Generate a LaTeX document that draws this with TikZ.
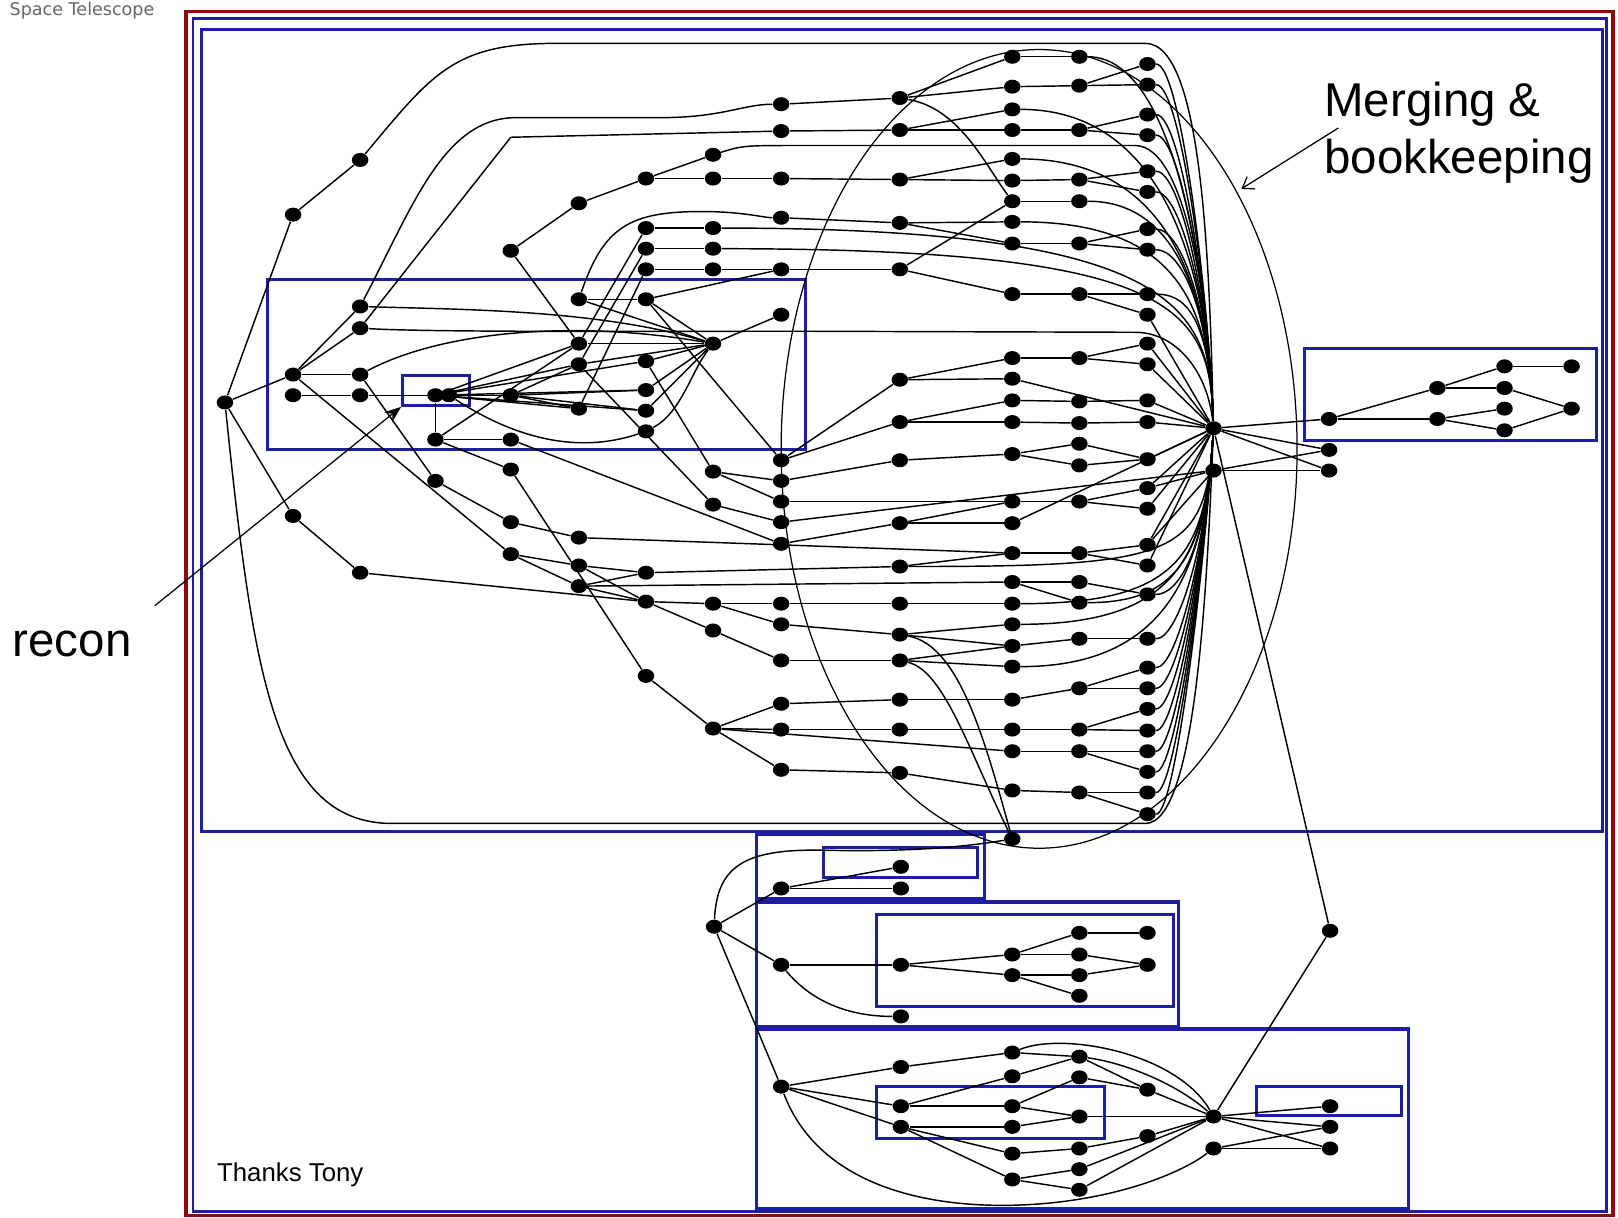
\documentclass[tikz,border=0pt]{standalone}
\usepackage{fontspec}
\setmainfont{Liberation Sans}
\newfontfamily\stfont{DejaVu Sans}
\usetikzlibrary{shapes.geometric,arrows.meta}
\definecolor{framered}{RGB}{140,10,10}
\definecolor{boxblue}{RGB}{30,30,160}
\tikzset{
  dot/.style={ellipse,fill=black,inner sep=0pt,minimum width=8pt,minimum height=6.8pt},
  edge/.style={line width=0.7pt},
  frame/.style={draw=boxblue,line width=1.5pt},
  note/.style={font=\fontsize{23}{27.5}\selectfont,anchor=base west,inner sep=0pt},
}
\begin{document}
\begin{tikzpicture}[x=0.5pt,y=-0.5pt]
\useasboundingbox (0,0) rectangle (1568,1180);
\clip (0,0) rectangle (1568,1180);

\draw[framered,line width=1.8pt] (180,11) rectangle (1563,1178);
\draw[boxblue,line width=1.2pt] (187,18) rectangle (1557,1174);
\draw[frame] (195,29) rectangle (1553,806);
\draw[frame] (259,271) rectangle (781,436);
\node[draw=boxblue,line width=1.2pt,inner sep=0pt,minimum width=32.5pt,minimum height=14.5pt] (reconbox) at (422.5,378.5) {};
\draw[frame] (1264,338) rectangle (1547,427);
\draw[frame,line width=1.8pt] (733,808) rectangle (954,871);
\draw[frame] (798,821) rectangle (947,850);
\draw[frame,line width=1.8pt] (733,874) rectangle (1142,995);
\draw[frame] (849,886) rectangle (1137,975);
\draw[frame,line width=1.8pt] (733,997) rectangle (1365,1171);
\draw[frame] (849,1053) rectangle (1070,1103);
\draw[frame] (1218,1053) rectangle (1358,1081);

\foreach \n/\x/\y in {a1/218/390, b1/284/208, b2/284/363, b3/284/383, b4/284/500,
  c1/349/155, c2/349/297, c3/349/318, c4/349/363, c5/349/383, c6/349/555,
  d1/422/383, d1b/435/383, d2/422/426, d3/422/466,
  e1/495/243, e2/495/383, e3/495/426, e4/495/455, e5/495/506, e6/495/537,
  f1/561/197, f2/561/290, f3/561/333, f4/561/353, f5/561/396, f6/561/521, f7/561/548, f8/561/568,
  g1/626/173, g2/626/221, g3/626/241, g4/626/261, g5/626/290, g6/626/350, g7/626/378, g8/626/398,
  g9/626/418, g10/626/555, g11/626/583, g12/626/655,
  h1/691/150, h2/691/173, h3/691/221, h4/691/241, h5/691/261, h6/691/333, h7/691/457, h8/691/489,
  h9/691/585, h9b/691/611, h10/691/706}
  \node[dot] (\n) at (\x,\y) {};
\foreach \n/\y in {1/101,2/127,3/173,4/211,5/261,6/305,7/446,8/466,9/486,10/506,11/527,12/585,13/605,14/640,15/682,16/707,17/746}
  \node[dot] (i\n) at (757,\y) {};
\foreach \n/\y in {1/95,2/126,3/174,4/216,5/261,6/368,7/409,8/446,9/507,10/549,11/585,12/615,13/640,14/678,15/707,16/749}
  \node[dot] (j\n) at (872,\y) {};
\foreach \n/\y in {1/55,2/84,3/106,4/126,5/154,6/175,7/195,8/215,9/236,10/285,11/347,12/367,13/388,14/409,15/440,16/486,17/507,18/536,19/564,20/585,21/605,22/626,23/646,24/678,25/707,26/728,27/766,28/813}
  \node[dot] (k\n) at (981,\y) {};
\foreach \n/\y in {1/55,2/83,3/126,4/174,5/195,6/236,7/285,8/347,9/389,10/410,11/430,12/451,13/486,14/536,15/564,16/584,17/619,18/667,19/707,20/728,21/768}
  \node[dot] (l\n) at (1046,\y) {};
\foreach \n/\y in {1/62,2/82,3/111,4/131,5/166,6/186,7/222,8/242,9/285,10/305,11/333,12/353,13/388,14/409,15/445,16/473,17/493,18/528,19/548,20/576,21/619,22/647,23/667,24/687,25/708,26/728,27/748,28/768,29/789}
  \node[dot] (m\n) at (1112,\y) {};
\foreach \n/\x/\y in {hub/1176/415, hubb/1176/456, r1/1288/406, r2/1393/376, r3/1393/406, r4/1458/355,
  r5/1458/376, r6/1458/396, r7/1458/417, r8/1523/355, r9/1523/396, r10/1288/436, r11/1288/456,
  n0/692/898, na1/757/861, na2/873/840, na3/873/861, nb1/757/935, nb2/873/935, nb3/981/925,
  nb4/981/945, nb5/1046/904, nb6/1046/925, nb7/1046/945, nb8/1046/965, nb9/1112/904, nb10/1112/935,
  nb11/873/985, nc1/757/1053, nc2/873/1034, nc3/873/1072, nc4/873/1092, nc5/981/1020, nc6/981/1043,
  nc7/981/1072, nc8/981/1092, nc9/981/1118, nc10/981/1143, nc11/1046/1024, nc12/1046/1044,
  nc13/1046/1082, nc14/1046/1113, nc15/1046/1133, nc16/1046/1153, nc17/1112/1056, nc18/1112/1101,
  nchub/1176/1082, nc19/1176/1113, nc20/1289/1072, nc21/1289/1092, nc22/1289/1113, nd1/1289/902}
  \node[dot] (\n) at (\x,\y) {};

\foreach \s/\t in {a1/b1, a1/b2, a1/b4, b1/c1, b2/c2, b2/c3, b2/c4, b2/e6, b3/c5, b4/c6, c4/d3, c5/d1,
  d1/d2, d2/e3, d2/e4, d2/f3, d3/e5, e5/f6, e6/f7, e6/f8, e4/g12, g12/h10, c6/g11, f7/g10, f7/g11,
  f8/g10, f8/g11, g11/h9, g11/h9b, h9/i12, h9/i13, h9b/i14, h10/i15, h10/i16, h10/i17, g10/j10,
  f6/k18, f8/k19, h10/k26, e1/f1, e1/f3, f1/g1, g1/h1, g1/h2, h2/i3, f2/g5, f3/g2, f4/g3, f5/g4,
  g2/h3, g3/h4, g4/h5, h5/i5, g5/i5, h6/i6, d1/e2, d1/f3, d1/f4, d1/f5, d1/g6, d1/g7, d1/g8,
  e2/f4, e2/f5, e2/g7, e2/g8, f3/h6, f4/h6, f2/h6, g5/h6, g6/h6, g7/h6, g8/h6, e3/i11, g5/i7,
  g6/h7, f4/h8, h7/i8, h7/i9, h8/i10}
  \draw[edge] (\s) -- (\t);
\foreach \s/\t in {i1/j1, i2/j2, i3/j3, i4/j4, i5/j5, j1/k1, j1/k2, j2/k3, j2/k4, j3/k5, j3/k6, j4/k8,
  j4/k9, j5/k7, j5/k10, k1/l1, k2/l2, k4/l3, k6/l4, k7/l5, k9/l6, k10/l7, l2/m1, l2/m2, l3/m3,
  l3/m4, l4/m5, l4/m6, l6/m7, l6/m8, l7/m9, l7/m10, i7/j6, i7/j7, i8/j8, i9/k16, i11/j9, i12/j11,
  i13/j12, i14/j13, i15/j14, i16/j15, i17/j16, j6/k11, j6/k12, j7/k13, j7/k14, j8/k15, j9/k16,
  j9/k17, j10/k18, j11/k20, j12/k21, j12/k22, j13/k22, j13/k23, j14/k24, j15/k25, j16/k27,
  k11/l8, l8/m11, l8/m12, k13/l9, l9/m13, k14/l10, l10/m14, k15/l11, k15/l12, l11/m15, l12/m15,
  k16/l13, l13/m16, l13/m17, k18/l14, l14/m18, l14/m19, k19/l15, k19/l16, l15/m20, k22/l17,
  l17/m21, k24/l18, l18/m22, l18/m23, k25/l19, l19/m24, l19/m25, k26/l20, l20/m26, l20/m27,
  k27/l21, l21/m28, l21/m29, i10/hubb, m10/hub, m11/hub, m12/hub, m13/hub, m14/hub, m15/hub,
  m16/hub, m17/hub, m18/hub, m19/hub, k12/hub, k17/hub, m16/hubb, m18/hubb, hub/r1, hub/r10,
  hub/r11, hubb/r10, hubb/r11, r1/r2, r1/r3, r2/r4, r2/r5, r3/r6, r3/r7, r4/r8, r5/r9, r7/r9,
  hub/nd1, nd1/nchub}
  \draw[edge] (\s) -- (\t);
\foreach \s/\y in {k3/106, k5/154, k8/215, l1/55, l5/195, m1/62, m2/82, m3/111, m4/131, m5/166,
  m6/186, m7/222, m8/242, m9/285, h3/221, h4/241}
  \draw[edge] (\s) .. controls (1145,\y) and (1172,300) .. (hub);
\foreach \s/\y in {m20/576, m21/619, m22/647, m23/667, m24/687, m25/708, m26/728, m27/748, m28/768,
  m29/789, k20/585, k21/605, k23/646, l16/584, j10/549}
  \draw[edge] (\s) .. controls (1140,\y) and (1168,540) .. (hub);

\draw[edge] (c1) .. controls (420,70) and (440,42) .. (540,42) -- (1110,42) .. controls (1165,42) and (1172,250) .. (hub);
\draw[edge] (a1) .. controls (245,650) and (265,798) .. (380,798) -- (1110,798) .. controls (1160,798) and (1170,560) .. (hub);
\draw[edge] (h1) .. controls (720,141) .. (780,141) -- (1100,141) .. controls (1150,141) and (1172,300) .. (hub);
\draw[edge] (c3) .. controls (420,322) and (600,321) .. (780,321) -- (1100,322) .. controls (1140,322) and (1170,360) .. (hub);
\draw[edge] (c2) .. controls (400,200) and (430,114) .. (500,114) -- (640,114) .. controls (700,114) and (720,101) .. (i1);
\draw[edge] (c3) -- (495,133) -- (i2);
\draw[edge] (f2) .. controls (585,220) and (610,205) .. (680,205) .. controls (720,205) and (740,211) .. (i4);
\draw[edge] (j1) .. controls (930,105) and (955,160) .. (k7);
\draw[edge] (j12) .. controls (930,625) and (955,720) .. (k28);
\draw[edge] (j13) .. controls (915,650) and (940,730) .. (k28);
\draw[edge] (c4) .. controls (430,320) and (560,310) .. (h6);
\draw[edge] (c2) .. controls (450,300) and (580,300) .. (h6);
\draw[edge] (d1b) .. controls (500,425) and (560,440) .. (g9);
\draw[edge] (g9) .. controls (660,400) and (670,360) .. (h6);

\foreach \s/\t in {n0/na1, n0/nb1, n0/nc1, na1/na2, na1/na3, nb1/nb2, nb2/nb3, nb2/nb4, nb3/nb5,
  nb3/nb6, nb4/nb7, nb4/nb8, nb5/nb9, nb6/nb10, nb7/nb10, nc1/nc2, nc1/nc3, nc1/nc4, nc2/nc5,
  nc3/nc6, nc3/nc7, nc4/nc8, nc4/nc9, nc4/nc10, nc5/nc11, nc6/nc11, nc7/nc12, nc7/nc13, nc8/nc13,
  nc9/nc14, nc10/nc15, nc10/nc16, nc11/nc17, nc12/nc17, nc17/nchub, nc13/nchub, nc14/nc18,
  nc18/nchub, nc15/nchub, nc16/nchub, nchub/nc20, nchub/nc21, nchub/nc22, nc19/nc21, nc19/nc22}
  \draw[edge] (\s) -- (\t);
\draw[edge] (nc1) .. controls (790,1140) and (880,1170) .. (981,1168) .. controls (1070,1166) and (1140,1140) .. (nc19);
\draw[edge] (nc5) .. controls (1030,1000) and (1140,1020) .. (nchub);
\draw[edge] (nc11) .. controls (1090,1030) and (1140,1050) .. (nchub);
\draw[edge] (nb1) .. controls (790,975) and (830,985) .. (nb11);
\draw[edge] (n0) .. controls (695,840) and (720,822) .. (800,824) .. controls (900,826) and (950,818) .. (k28);

\node[draw,ellipse,line width=0.6pt,minimum width=250pt,minimum height=387pt] (mergezone) at (1007,435) {};
\node[note] (merge1) at (1283,113) {Merging \&};
\node[note] (merge2) at (1283,168) {bookkeeping};
\node[note] (recon) at (12,636) {recon};
\node[font=\fontsize{12.5}{15}\selectfont,anchor=base west,inner sep=0pt] (thanks) at (210,1145) {Thanks Tony};
\node[font=\stfont\fontsize{8.5}{10}\selectfont,text=black!60,anchor=base west,inner sep=0pt] (title) at (9,15) {Space Telescope};
\coordinate (mtail) at (1297,124);
\coordinate (mtip) at (1203,183);
\coordinate (rtail) at (150,587);
\draw[line width=0.6pt,-{Straight Barb[length=5pt,width=7pt]}] (mtail) -- (mtip);
\draw[line width=0.6pt,-{Stealth[length=8pt,width=6pt]}] (rtail) -- (reconbox.south west);
\end{tikzpicture}
\end{document}
